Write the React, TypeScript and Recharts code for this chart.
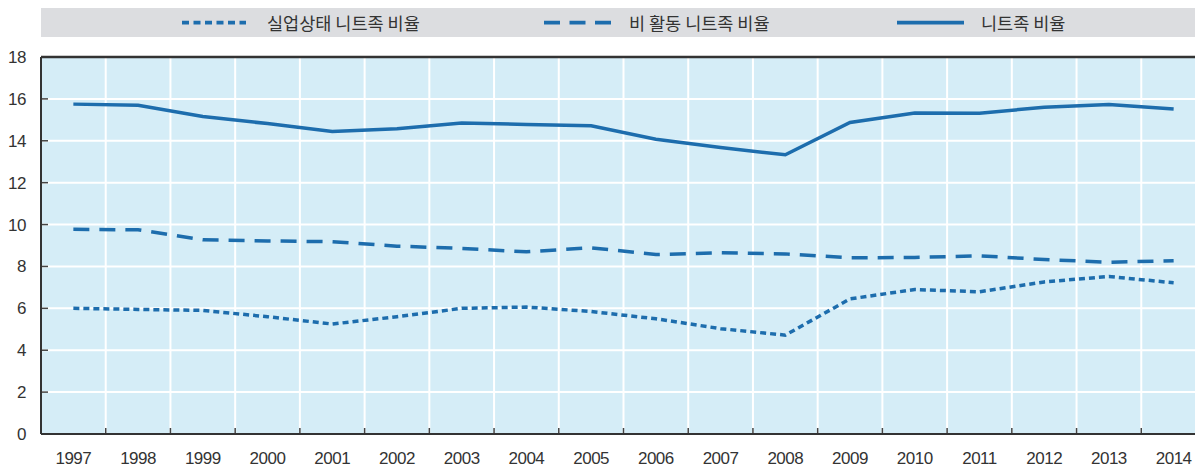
import React from 'react';
import { LineChart, Line, XAxis, YAxis, CartesianGrid, ReferenceLine } from 'recharts';

const years = ['1997', '1998', '1999', '2000', '2001', '2002', '2003', '2004', '2005', '2006', '2007', '2008', '2009', '2010', '2011', '2012', '2013', '2014'];
const unemployedNeet = [6.0, 5.95, 5.9, 5.6, 5.25, 5.6, 6.0, 6.06, 5.85, 5.5, 5.03, 4.72, 6.45, 6.9, 6.79, 7.26, 7.52, 7.22];
const inactiveNeet = [9.77, 9.75, 9.27, 9.22, 9.18, 8.97, 8.86, 8.7, 8.89, 8.57, 8.65, 8.6, 8.41, 8.43, 8.51, 8.33, 8.2, 8.27];
const neetTotal = [15.75, 15.7, 15.16, 14.82, 14.44, 14.58, 14.85, 14.78, 14.72, 14.07, 13.68, 13.33, 14.87, 15.33, 15.32, 15.6, 15.73, 15.52];
const yTicks = [0, 2, 4, 6, 8, 10, 12, 14, 16, 18];
const seriesNames = ['실업상태 니트족 비율', '비 활동 니트족 비율', '니트족 비율'];

const data = years.map((y, i) => ({
  year: y,
  unemployed: unemployedNeet[i],
  inactive: inactiveNeet[i],
  total: neetTotal[i],
}));

const BLUE = '#1d6dad';
const DARK = '#333333';
const DOT = '6 4';
const DASH = '16 10';

const renderVertical = (p: any) => (
  <g key={p.key ?? `v-${p.index}`}>
    <line x1={p.x1} y1={p.y1} x2={p.x2} y2={p.y2} stroke="#ffffff" strokeWidth={2} />
    <line x1={p.x1} y1={p.y2 - 6} x2={p.x2} y2={p.y2} stroke="#444" strokeWidth={1.5} />
  </g>
);

const renderHorizontal = (p: any) => (
  <g key={p.key ?? `h-${p.index}`}>
    <line x1={p.x1} y1={p.y1} x2={p.x2} y2={p.y2} stroke="#ffffff" strokeWidth={2} />
    <line x1={p.x1} y1={p.y1} x2={p.x1 + 7} y2={p.y2} stroke="#444" strokeWidth={1.5} />
  </g>
);

const tickFont = {
  fontFamily: '"Liberation Sans", Arial, Helvetica, sans-serif',
  fontSize: 17,
  fill: DARK,
  letterSpacing: -0.5,
};

const legendFont = '"Noto Sans CJK KR", "Noto Sans", sans-serif';

export default function App() {
  return (
    <div style={{ position: 'relative', width: 1203, height: 467, overflow: 'hidden', margin: '-8px 0 0 -8px', background: '#fff' }}>
      <LineChart
        width={1206}
        height={467}
        data={data}
        margin={{ top: 57, right: 0, left: 0, bottom: 0 }}
      >
        <CartesianGrid
          fill="#d5edf7"
          stroke="#ffffff"
          vertical={renderVertical}
          horizontal={renderHorizontal}
          verticalCoordinatesGenerator={({ offset }: any) =>
            years.slice(1).map((_, i) => offset.left + ((i + 1) * offset.width) / years.length)
          }
        />
        <ReferenceLine y={18} stroke={DARK} strokeWidth={2.5} />
        <XAxis
          dataKey="year"
          scale="band"
          height={33}
          interval={0}
          tickLine={false}
          tickSize={0}
          tickMargin={18}
          axisLine={{ stroke: DARK, strokeWidth: 2 }}
          tick={tickFont}
        />
        <YAxis
          width={41}
          domain={[0, 18]}
          ticks={yTicks}
          interval={0}
          tickLine={false}
          tickSize={0}
          tickMargin={15}
          axisLine={{ stroke: DARK, strokeWidth: 2 }}
          tick={tickFont}
        />
        <Line
          dataKey="unemployed"
          name={seriesNames[0]}
          stroke={BLUE}
          strokeWidth={3.5}
          strokeDasharray={DOT}
          dot={false}
          activeDot={false}
          isAnimationActive={false}
        />
        <Line
          dataKey="inactive"
          name={seriesNames[1]}
          stroke={BLUE}
          strokeWidth={3.5}
          strokeDasharray={DASH}
          dot={false}
          activeDot={false}
          isAnimationActive={false}
        />
        <Line
          dataKey="total"
          name={seriesNames[2]}
          stroke={BLUE}
          strokeWidth={3.5}
          dot={false}
          activeDot={false}
          isAnimationActive={false}
        />
      </LineChart>
      <div style={{ position: 'absolute', left: 41, top: 6, width: 1162, height: 31, background: '#dcdde0' }}>
        <svg width={1162} height={31} style={{ display: 'block' }}>
          <line x1={141} y1={16.7} x2={205} y2={16.7} stroke={BLUE} strokeWidth={3.7} strokeDasharray="7 4.5" />
          <text x={226} y={16.5} dominantBaseline="central" fontSize={17.5} fill={DARK} fontFamily={legendFont}>{seriesNames[0]}</text>
          <line x1={503} y1={16.7} x2={570} y2={16.7} stroke={BLUE} strokeWidth={3.7} strokeDasharray="16 9.5" />
          <text x={588} y={16.5} dominantBaseline="central" fontSize={17.5} fill={DARK} fontFamily={legendFont}>{seriesNames[1]}</text>
          <line x1={856} y1={16.7} x2={923} y2={16.7} stroke={BLUE} strokeWidth={3.7} />
          <text x={940} y={16.5} dominantBaseline="central" fontSize={17.5} fill={DARK} fontFamily={legendFont}>{seriesNames[2]}</text>
        </svg>
      </div>
    </div>
  );
}
